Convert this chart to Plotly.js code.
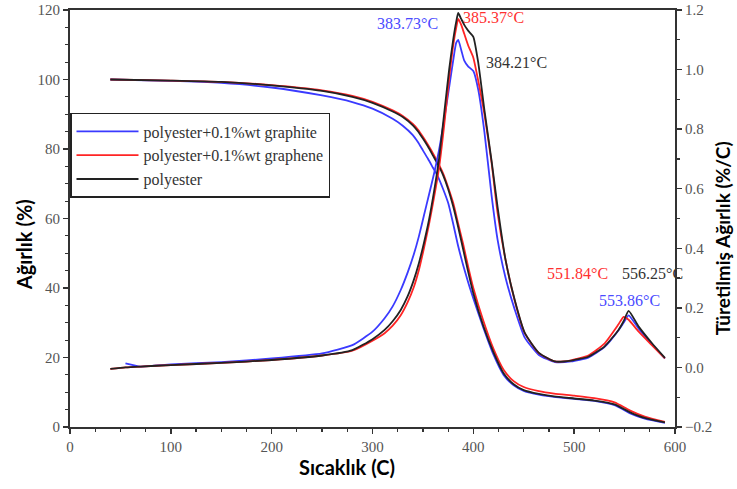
<!DOCTYPE html>
<html>
<head>
<meta charset="utf-8">
<script src="https://cdn.plot.ly/plotly-3.0.1.min.js"></script>
<style>html,body{margin:0;padding:0;background:#fff;}#chart{width:737px;height:489px;}</style>
</head>
<body>
<div id="chart"></div>
<script>
// Series names
var seriesNames = ["polyester+0.1%wt graphite", "polyester+0.1%wt graphene", "polyester"];

// TGA (weight %, left axis)
var tgaTemp = [40,100,150,200,250,280,300,320,330,340,345,350,355,360,365,370,375,380,385,390,395,400,410,420,430,440,450,465,480,500,520,540,555,570,590];
var tgaGraphite = [100,99.6,99.0,97.7,95.4,93.5,91.6,88.7,86.7,84.0,82.0,79.6,77.2,74.6,72.0,68.5,64.5,58.5,52.0,46.5,41.5,37.0,28.5,20.8,15.0,12.0,10.4,9.3,8.7,8.1,7.5,6.3,4.0,2.4,1.2];
var tgaGraphene = [100,99.7,99.3,98.4,96.9,95.3,93.6,91.1,89.5,87.2,85.6,83.5,81.2,78.7,76.0,73.0,69.0,64.5,58.5,52.5,46.0,40.0,30.5,22.5,16.5,13.2,11.5,10.3,9.6,9.0,8.3,7.1,4.8,3.0,1.5];
var tgaPolyester = [100,99.7,99.3,98.3,96.7,95.0,93.3,90.8,89.2,86.8,85.1,83.0,80.7,78.1,75.5,72.5,68.5,63.5,57.5,51.0,44.5,38.5,29.0,21.5,15.5,12.3,10.6,9.5,8.8,8.2,7.6,6.5,4.3,2.6,1.3];

// DTG (derivative weight %/C, right axis)
var dtgTemp = [40,55,70,100,150,200,250,280,300,312,320,328,335,341,346,351,356,361,366,371,376,380,383,385,388,391,395,400,405,411,418,424,432,441,451,465,481,497,514,530,544,549,554,564,577,590];
var dtgGraphite = [null,0.014,0.003,0.010,0.018,0.030,0.047,0.075,0.120,0.165,0.205,0.260,0.320,0.380,0.440,0.510,0.580,0.650,0.730,0.830,0.940,1.030,1.090,1.100,1.066,1.030,1.010,0.995,0.930,0.790,0.580,0.430,0.300,0.195,0.100,0.042,0.018,0.020,0.033,0.068,0.125,0.150,0.175,0.130,0.078,0.030];
var dtgGraphene = [-0.005,0.000,0.003,0.008,0.015,0.025,0.040,0.056,0.090,0.115,0.140,0.175,0.220,0.270,0.327,0.400,0.480,0.570,0.670,0.810,0.970,1.080,1.140,1.170,1.150,1.120,1.080,1.040,0.960,0.850,0.690,0.520,0.360,0.225,0.115,0.048,0.020,0.024,0.040,0.080,0.145,0.170,0.160,0.120,0.075,0.030];
var dtgPolyester = [-0.005,0.000,0.003,0.008,0.015,0.025,0.040,0.058,0.095,0.126,0.155,0.193,0.240,0.294,0.350,0.418,0.495,0.590,0.700,0.850,1.000,1.100,1.160,1.190,1.170,1.150,1.130,1.110,1.020,0.864,0.696,0.540,0.360,0.227,0.116,0.049,0.020,0.023,0.036,0.070,0.126,0.155,0.190,0.137,0.082,0.032];

// Peak labels
var peakTemps = [383.73, 385.37, 384.21, 551.84, 556.25, 553.86];
var peakLabelSeries = [0, 1, 2, 1, 2, 0];
var peakLabelX = [335, 420, 443, 503, 578, 555];
var peakLabelY = [1.156, 1.176, 1.025, 0.317, 0.317, 0.226];

var colors = ["#3a3aff", "#ff2424", "#222222"];
var textColors = ["#4a4aff", "#ff3030", "#333333"];

var tgaSets = [tgaGraphite, tgaGraphene, tgaPolyester];
var dtgSets = [dtgGraphite, dtgGraphene, dtgPolyester];

var traces = [];
for (var i = 0; i < 3; i++) {
  traces.push({
    x: tgaTemp, y: tgaSets[i], type: "scatter", mode: "lines",
    name: seriesNames[i], legendgroup: "g" + i,
    line: {color: colors[i], width: 1.8, shape: "spline", smoothing: 0.6},
    yaxis: "y"
  });
  traces.push({
    x: dtgTemp, y: dtgSets[i], type: "scatter", mode: "lines",
    name: seriesNames[i], legendgroup: "g" + i, showlegend: false,
    line: {color: colors[i], width: 1.8, shape: "spline", smoothing: 0.5},
    yaxis: "y2"
  });
}

var serif = "'Liberation Serif', 'Times New Roman', 'DejaVu Serif', serif";
var tickFont = {family: serif, size: 15, color: "#555"};
var titleFont = {family: "Lato, Arial, sans-serif", size: 20, color: "#000"};

var annotations = [];
for (var k = 0; k < peakTemps.length; k++) {
  annotations.push({
    x: peakLabelX[k], y: peakLabelY[k], xref: "x", yref: "y2",
    text: peakTemps[k].toFixed(2) + "°C", showarrow: false,
    font: {family: serif, size: 16, color: textColors[peakLabelSeries[k]]},
    xanchor: "center", yanchor: "middle"
  });
}
annotations.push({
  x: 0.458, y: -0.096, xref: "paper", yref: "paper", showarrow: false,
  text: "<b>Sıcaklık (C)</b>", font: titleFont, xanchor: "center", yanchor: "middle"
});
annotations.push({
  x: -0.076, y: 0.436, xref: "paper", yref: "paper", showarrow: false, textangle: -90,
  text: "<b>Ağırlık (%)</b>", font: titleFont, xanchor: "center", yanchor: "middle"
});
annotations.push({
  x: 1.078, y: 0.453, xref: "paper", yref: "paper", showarrow: false, textangle: -90,
  text: "<b>Türetilmiş Ağırlık (%/C)</b>", font: {family: "Lato, Arial, sans-serif", size: 19, color: "#000"},
  xanchor: "center", yanchor: "middle"
});

var layout = {
  width: 737, height: 489,
  margin: {l: 70, r: 62, t: 10, b: 62},
  paper_bgcolor: "#fff", plot_bgcolor: "#fff",
  showlegend: true,
  legend: {
    x: 0, y: 0.753, xanchor: "left", yanchor: "top",
    bgcolor: "#fff", bordercolor: "#222", borderwidth: 1.5,
    itemwidth: 62, tracegroupgap: 0,
    font: {family: serif, size: 16, color: "#333"}
  },
  xaxis: {
    range: [0, 600], dtick: 100, tick0: 0,
    showgrid: false, zeroline: false,
    showline: true, linecolor: "#333", linewidth: 2, mirror: true,
    ticks: "outside", ticklen: 5, tickwidth: 1.5, tickcolor: "#333",
    minor: {dtick: 25, ticks: "outside", ticklen: 3, tickwidth: 1.2, tickcolor: "#333", showgrid: false},
    tickfont: tickFont
  },
  yaxis: {
    range: [0, 120], dtick: 20, tick0: 0,
    showgrid: false, zeroline: false,
    showline: true, linecolor: "#333", linewidth: 2,
    ticks: "outside", ticklen: 5, tickwidth: 1.5, tickcolor: "#333",
    minor: {dtick: 5, ticks: "outside", ticklen: 3, tickwidth: 1.2, tickcolor: "#333", showgrid: false},
    tickfont: tickFont
  },
  yaxis2: {
    range: [-0.2, 1.2], dtick: 0.2, tick0: 0, tickformat: ".1f",
    overlaying: "y", side: "right",
    showgrid: false, zeroline: false,
    showline: true, linecolor: "#333", linewidth: 2,
    ticks: "outside", ticklen: 5, tickwidth: 1.5, tickcolor: "#333",
    minor: {dtick: 0.1, ticks: "outside", ticklen: 3, tickwidth: 1.2, tickcolor: "#333", showgrid: false},
    tickfont: tickFont
  },
  annotations: annotations
};

Plotly.newPlot("chart", traces, layout, {staticPlot: true, displayModeBar: false});
</script>
</body>
</html>
